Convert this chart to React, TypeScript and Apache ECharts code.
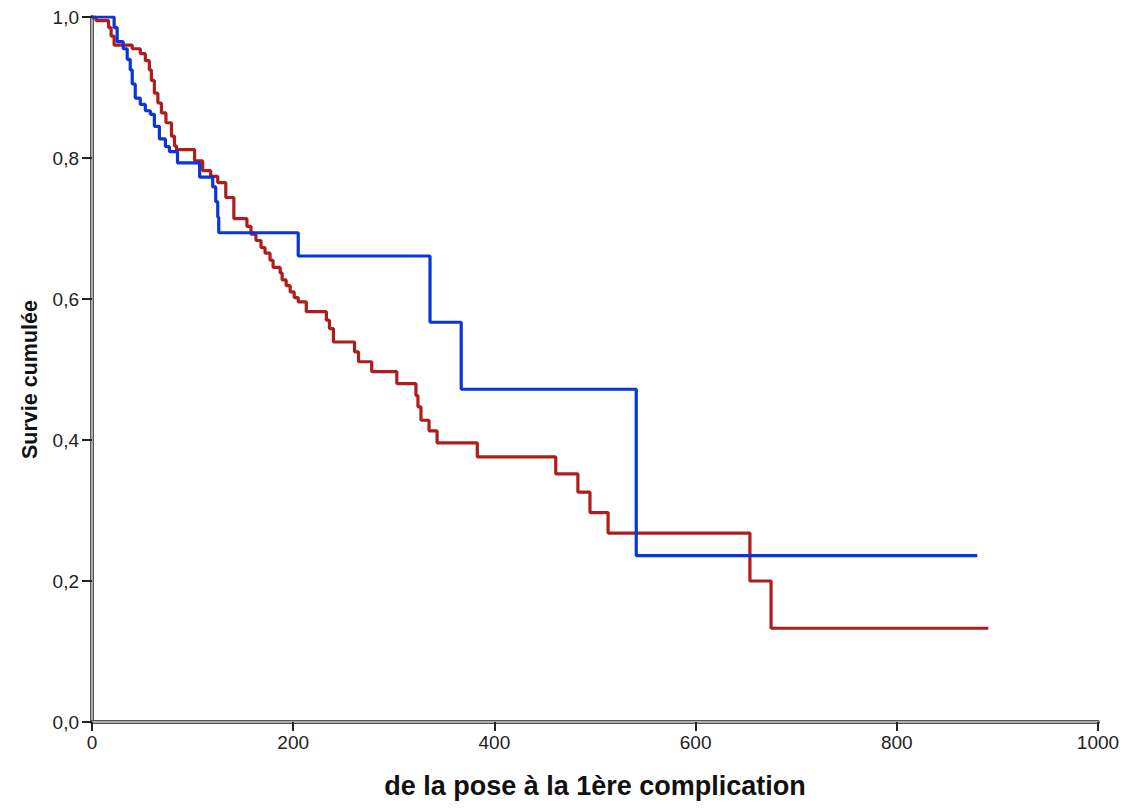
import React, { useEffect, useRef } from "react";
import * as echarts from "echarts";

// Kaplan-Meier steps: time of event, survival after the event
const blueTimes = [0, 22, 25, 31, 35, 38, 40, 43, 48, 53, 58, 62, 67, 73, 77, 85, 107, 120, 123, 125, 126, 205, 336, 367, 541, 880];
const blueSurv = [1.0, 0.985, 0.965, 0.955, 0.94, 0.925, 0.905, 0.885, 0.876, 0.867, 0.862, 0.845, 0.827, 0.816, 0.809, 0.793, 0.773, 0.759, 0.738, 0.716, 0.694, 0.661, 0.567, 0.472, 0.236, 0.236];

const redTimes = [0, 4, 16.5, 19, 22, 40, 48, 53, 57, 59, 62, 65.5, 69, 73.5, 79, 82, 84, 102, 110, 118, 125, 133, 141, 154, 158, 163, 168, 172, 177, 180, 187, 189, 193, 197, 201, 205, 213, 233, 236, 240, 261, 265, 278, 303, 322, 324, 327, 335, 343, 383, 461, 483, 495, 513, 654, 675, 891];
const redSurv = [1.0, 0.995, 0.985, 0.973, 0.96, 0.955, 0.948, 0.938, 0.925, 0.91, 0.892, 0.878, 0.864, 0.85, 0.831, 0.817, 0.812, 0.796, 0.782, 0.774, 0.765, 0.744, 0.714, 0.703, 0.692, 0.683, 0.673, 0.665, 0.655, 0.645, 0.637, 0.627, 0.619, 0.61, 0.602, 0.596, 0.582, 0.57, 0.558, 0.539, 0.525, 0.511, 0.497, 0.48, 0.463, 0.447, 0.428, 0.413, 0.396, 0.376, 0.352, 0.326, 0.297, 0.268, 0.2, 0.133, 0.133];

const xTicks = [0, 200, 400, 600, 800, 1000];
const yTicks = [0, 0.2, 0.4, 0.6, 0.8, 1.0];

const xTitle = "de la pose à la 1ère complication";
const yTitle = "Survie cumulée";

export default function App() {
  const ref = useRef<HTMLDivElement>(null);
  useEffect(() => {
    if (!ref.current) return;
    const chart = echarts.init(ref.current, null, { renderer: "svg" });
    const font = "'Liberation Sans', Arial, sans-serif";
    const zip = (t: number[], s: number[]) => t.map((v, i) => [v, s[i]]);
    chart.setOption({
      animation: false,
      backgroundColor: "#ffffff",
      grid: { left: 92, right: 26, top: 17, bottom: 86 },
      xAxis: [
        {
          type: "value",
          min: xTicks[0],
          max: xTicks[xTicks.length - 1],
          interval: xTicks[1] - xTicks[0],
          position: "bottom",
          name: xTitle,
          nameLocation: "middle",
          nameGap: 50,
          nameTextStyle: { fontFamily: font, fontSize: 27, fontWeight: "bold", color: "#111" },
          axisLine: { lineStyle: { color: "#555", width: 4 } },
          axisTick: { show: true, length: 9, lineStyle: { color: "#222", width: 2 } },
          axisLabel: {
            fontFamily: font,
            fontSize: 19,
            color: "#222",
            margin: 11,
            formatter: (v: number) => String(v),
          },
          splitLine: { show: false },
        },
        {
          type: "value",
          min: xTicks[0],
          max: xTicks[xTicks.length - 1],
          position: "bottom",
          offset: 0,
          axisLine: { lineStyle: { color: "#c8c8c8", width: 1.5 } },
          axisTick: { show: false },
          axisLabel: { show: false },
          splitLine: { show: false },
        },
      ],
      yAxis: [
        {
          type: "value",
          min: yTicks[0],
          max: yTicks[yTicks.length - 1],
          interval: 0.2,
          position: "left",
          name: yTitle,
          nameLocation: "middle",
          nameGap: 51,
          nameTextStyle: {
            fontFamily: font,
            fontSize: 21.5,
            fontWeight: "bold",
            color: "#111",
            padding: [0, 20, 0, 0],
          },
          axisLine: { show: true, lineStyle: { color: "#555", width: 4 } },
          axisTick: { show: true, length: 10, lineStyle: { color: "#222", width: 2 } },
          axisLabel: {
            fontFamily: font,
            fontSize: 19,
            color: "#222",
            margin: 13,
            formatter: (v: number) => v.toFixed(1).replace(".", ","),
          },
          splitLine: { show: false },
        },
        {
          type: "value",
          min: yTicks[0],
          max: yTicks[yTicks.length - 1],
          position: "left",
          offset: 0,
          axisLine: { show: true, lineStyle: { color: "#c8c8c8", width: 1.5 } },
          axisTick: { show: false },
          axisLabel: { show: false },
          splitLine: { show: false },
        },
      ],
      series: [
        {
          type: "line",
          step: "end",
          data: zip(redTimes, redSurv),
          showSymbol: false,
          lineStyle: { color: "#ae1c1c", width: 3.2 },
          itemStyle: { color: "#ae1c1c" },
          z: 3,
        },
        {
          type: "line",
          step: "end",
          data: zip(blueTimes, blueSurv),
          showSymbol: false,
          lineStyle: { color: "#0a35d8", width: 3.2 },
          itemStyle: { color: "#0a35d8" },
          z: 4,
        },
      ],
    });
    return () => chart.dispose();
  }, []);
  return (
    <div
      ref={ref}
      style={{ position: "fixed", left: 0, top: 0, width: 1124, height: 808, background: "#fff" }}
    />
  );
}
